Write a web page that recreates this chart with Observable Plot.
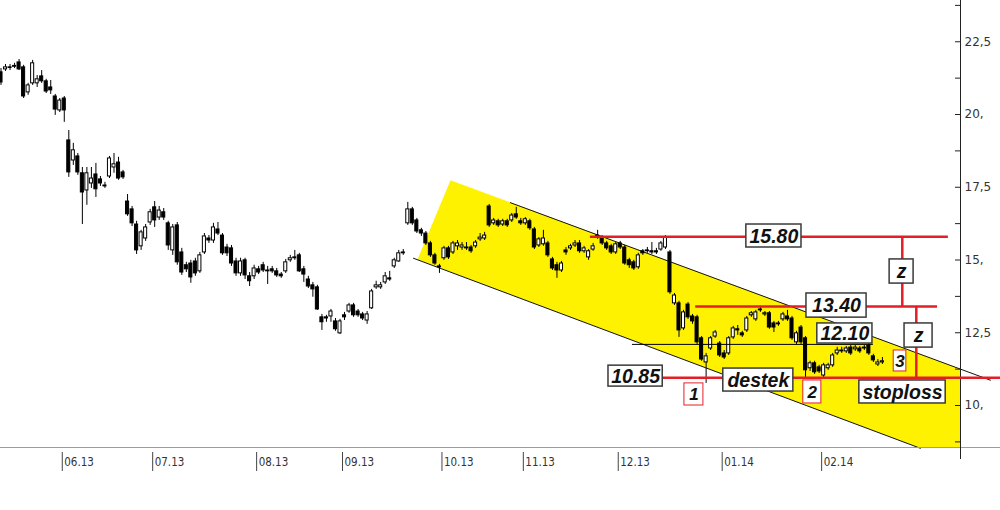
<!DOCTYPE html>
<html><head><meta charset="utf-8">
<script src="https://cdn.jsdelivr.net/npm/d3@7"></script>
<script src="https://cdn.jsdelivr.net/npm/@observablehq/plot@0.6"></script>
<style>html,body{margin:0;padding:0;background:#fff;overflow:hidden}</style>
</head><body><div id="chart"></div>
<script>
// ---- daily candles (bar index, price) ----
const openP=[21.45,21.55,21.62,21.64,21.79,21.62,20.76,21.07,21.07,21.31,21.14,20.93,20.62,20.14,20.55,19.11,18.42,18.56,17.98,17.39,17.63,17.94,17.77,17.56,17.87,18.18,18.35,18.01,17.01,16.74,16.22,15.47,15.74,16.29,16.81,16.46,16.64,16.26,15.33,16.19,15.26,14.82,14.88,14.95,14.61,15.26,15.74,15.67,16.05,15.84,15.43,15.40,14.95,14.54,14.99,14.44,14.44,14.68,14.82,14.64,14.68,14.61,14.50,14.61,14.99,15.09,15.16,14.68,14.33,14.13,14.06,13.03,13.03,13.06,12.89,12.48,13.10,13.23,13.44,13.23,13.13,12.92,13.34,14.06,14.06,14.23,14.37,14.78,14.95,15.26,16.26,16.74,16.36,16.02,15.91,15.57,15.16,14.78,15.06,15.40,15.26,15.47,15.43,15.43,15.43,15.47,15.71,15.74,16.84,16.26,16.33,16.22,16.33,16.36,16.57,16.33,16.26,16.33,16.05,15.50,15.54,15.57,15.02,14.82,14.64,15.33,15.40,15.50,15.57,15.30,15.09,15.36,15.84,15.77,15.57,15.47,15.26,15.57,15.43,14.99,14.92,14.75,15.30,15.33,15.30,15.30,15.36,15.43,15.26,13.51,13.51,12.65,13.47,13.06,13.03,12.31,11.48,11.96,12.37,12.13,11.79,11.79,12.34,12.62,12.48,12.58,13.10,12.96,13.30,13.13,13.17,12.82,12.82,12.96,13.06,12.99,12.17,12.68,12.31,11.28,11.45,11.31,11.03,11.28,11.38,11.79,11.89,11.86,11.99,11.93,11.96,11.96,12.06,11.69,11.41,11.48];
const highP=[21.58,21.72,21.72,21.76,21.89,21.69,21.07,21.86,21.34,21.51,21.21,21.17,20.69,20.55,20.62,19.45,19.01,18.66,18.18,18.18,18.18,18.32,17.87,17.67,18.56,18.66,18.53,18.08,17.25,16.84,16.33,16.02,16.22,16.74,17.01,16.84,16.77,16.33,16.22,16.29,15.40,14.92,14.99,15.06,15.26,15.91,15.84,16.26,16.29,15.91,15.54,15.50,15.06,15.06,15.06,14.57,14.82,14.78,14.92,14.78,14.78,14.71,14.57,15.02,15.16,15.33,15.23,14.78,14.44,14.23,14.13,13.13,13.10,13.30,12.99,12.96,13.20,13.51,13.51,13.30,13.20,13.23,13.99,14.27,14.23,14.57,14.61,15.06,15.33,15.36,16.98,16.81,16.43,16.09,15.98,15.64,15.23,14.85,15.47,15.47,15.64,15.67,15.60,15.60,15.50,15.67,15.91,15.95,16.91,16.43,16.40,16.40,16.40,16.60,16.81,16.43,16.46,16.40,16.12,15.77,16.02,15.64,15.09,14.92,14.95,15.43,15.54,15.67,15.67,15.47,15.36,15.57,16.02,15.84,15.64,15.54,15.60,15.64,15.50,15.06,14.99,15.23,15.36,15.43,15.60,15.40,15.64,15.84,15.33,13.85,13.58,13.27,13.54,13.13,13.10,12.37,11.79,12.37,12.58,12.20,11.89,12.37,12.72,12.75,12.55,13.06,13.23,13.27,13.41,13.23,13.23,12.89,12.89,13.20,13.27,13.06,12.55,12.75,12.37,11.52,11.52,11.38,11.45,11.45,11.79,12.00,12.00,12.03,12.06,12.06,12.03,12.06,12.13,11.76,11.58,11.65];
const lowP=[21.00,21.48,21.51,21.58,21.51,20.55,20.66,21.00,20.93,21.07,20.72,20.69,19.97,20.07,19.73,17.84,18.25,17.91,16.22,16.88,17.46,17.15,17.53,17.46,17.80,17.98,17.74,17.77,16.50,16.15,15.19,15.33,15.64,16.19,16.12,16.36,16.36,15.33,15.16,14.82,14.47,14.57,14.20,14.44,14.54,15.19,15.57,15.57,15.84,15.16,15.12,14.78,14.44,14.44,14.33,14.09,14.33,14.50,14.57,14.16,14.54,14.40,14.37,14.54,14.92,14.99,14.57,14.23,14.02,13.72,13.27,12.58,12.86,12.86,12.55,12.44,12.92,13.17,13.03,13.03,12.92,12.79,13.30,13.99,13.99,14.16,14.27,14.71,14.92,15.16,16.19,16.19,15.91,15.81,15.50,15.09,14.82,14.54,14.99,15.02,15.19,15.33,15.33,15.33,15.23,15.40,15.64,15.67,16.12,16.19,16.12,16.15,16.12,16.29,16.40,16.19,16.19,16.02,15.36,15.43,15.47,15.09,14.64,14.37,14.57,15.16,15.33,15.43,15.23,15.23,14.99,15.30,15.71,15.50,15.33,15.19,15.19,15.36,14.82,14.71,14.64,14.68,15.16,15.23,15.19,15.19,15.30,15.36,13.82,13.44,12.34,12.58,12.96,12.79,12.10,11.52,10.76,11.89,12.31,11.65,11.58,11.72,12.27,12.41,12.34,12.51,13.03,12.89,13.20,13.06,12.62,12.51,12.72,12.89,12.89,12.24,12.10,12.10,10.93,11.17,11.07,11.10,10.93,11.21,11.31,11.72,11.79,11.79,11.72,11.86,11.79,11.89,11.72,11.48,11.34,11.41];
const closeP=[21.10,21.62,21.60,21.67,21.55,20.62,21.00,21.76,21.21,21.14,20.79,20.83,20.17,20.48,20.14,18.01,18.77,18.01,17.32,17.98,17.80,17.43,17.63,17.53,18.49,18.29,17.80,17.84,16.57,16.26,15.33,15.95,16.12,16.64,16.36,16.70,16.46,15.50,16.12,14.92,14.57,14.68,14.40,14.54,15.16,15.81,15.67,16.12,15.91,15.23,15.23,14.88,14.54,14.95,14.47,14.27,14.71,14.57,14.64,14.61,14.61,14.47,14.44,14.92,15.06,15.06,14.61,14.50,14.09,13.99,13.30,12.86,12.99,13.23,12.62,12.89,13.03,13.44,13.10,13.10,12.99,13.13,13.92,14.13,14.13,14.44,14.33,14.99,15.23,15.23,16.74,16.26,15.98,15.91,15.57,15.16,14.88,14.75,15.40,15.09,15.57,15.57,15.50,15.40,15.30,15.60,15.77,15.84,16.19,16.36,16.19,16.33,16.19,16.53,16.46,16.26,16.40,16.09,15.43,15.71,15.74,15.16,14.71,14.64,14.88,15.26,15.47,15.57,15.30,15.40,15.30,15.47,15.77,15.57,15.40,15.26,15.54,15.43,14.88,14.82,14.71,15.16,15.23,15.30,15.26,15.26,15.57,15.77,13.89,13.78,12.58,13.20,13.03,12.89,12.17,11.58,11.69,12.31,12.51,11.72,11.65,12.31,12.65,12.58,12.41,12.99,13.17,13.20,13.27,13.17,12.68,12.68,12.79,13.13,12.96,12.31,12.48,12.17,11.21,11.45,11.14,11.17,11.38,11.38,11.72,11.89,11.86,11.96,11.79,11.99,11.86,11.99,11.79,11.55,11.48,11.52];

// ---- month ticks (first bar of month) ----
const monthBar=[14,34,57,76,98,116,137,160,182];
const monthLabel=["06.13","07.13","08.13","09.13","10.13","11.13","12.13","01.14","02.14"];

// ---- price axis ticks ----
const majorTicks=[10,12.5,15,17.5,20,22.5];
const minorTicks=[8.75,11.25,13.75,16.25,18.75,21.25,23.75];

// ---- drawn levels ----
const levelValue=[15.80,13.40];
const supportValue=10.95;      // red support / stop line as drawn
const midValue=12.10;          // thin black line

// ---- channel (bar index, price) ----
const channelX=[99.45,212.3,212.3,203.0,92.15];
const channelY=[17.74,11.25,8.557,8.557,15.02];
const upperX=[112.7,218.9], upperY=[16.97,10.87];
const lowerX=[91.26,203.4], lowerY=[15.06,8.53];

// ---- annotation boxes ----
const boxText=["15.80","13.40","12.10","10.85","destek","stoploss","z","z","1","2","3"];
const boxX1=[164.9,178.2,180.6,134.4,159.8,189.9,196.6,199.9,151.2,177.5,197.5];
const boxX2=[177.1,191.5,192.8,146.4,175.3,209.0,201.9,206.1,155.4,181.5,200.3];
const boxY1=[15.43,13.02,12.13,10.65,10.48,10.07,14.19,11.99,10.00,10.07,11.17];
const boxY2=[16.22,13.85,12.82,11.37,11.27,10.86,15.02,12.82,10.76,10.86,11.89];
const boxRed=[false,false,false,false,false,false,false,false,true,true,true];

// ---- geometry ----
const pxPerBar=4.52, pxPerUnit=29.1;
const xDomain=[-0.5/pxPerBar, 999.5/pxPerBar];
const yDomain=[8.557, 23.918];
const axisBar=959.5/pxPerBar;
const RED="#e41e26";

const candles=openP.map((o,i)=>({i,o,h:highP[i],l:lowP[i],c:closeP[i]}));
const channel=channelX.map((x,k)=>({x,y:channelY[k]}));
const chLines=[...upperX.map((x,k)=>({s:"u",x,y:upperY[k]})),...lowerX.map((x,k)=>({s:"l",x,y:lowerY[k]}))];
const boxes=boxText.map((t,k)=>({t,x1:boxX1[k],x2:boxX2[k],y1:boxY1[k],y2:boxY2[k],red:boxRed[k]}));
const fmt=d=>Number.isInteger(d)?d+",":String(d).replace(".",",");
const below=px=>yDomain[0]-px/pxPerUnit;

const chart=Plot.plot({
  width:1000,height:510,
  marginTop:0,marginBottom:63,marginLeft:0,marginRight:0,
  x:{type:"linear",domain:xDomain,axis:null},
  y:{type:"linear",domain:yDomain,axis:null},
  style:{background:"white",overflow:"visible"},
  marks:[
    Plot.line(channel,{x:"x",y:"y",fill:"#fff200",stroke:"none"}),
    Plot.line(chLines,{x:"x",y:"y",z:"s",stroke:"#111",strokeWidth:1}),
    Plot.ruleY([yDomain[0]],{stroke:"#66c266",strokeWidth:1}),
    Plot.ruleX([axisBar],{y1:below(12),y2:yDomain[1],stroke:"#222",strokeWidth:1}),
    Plot.ruleY(majorTicks.concat(minorTicks),{y:d=>d,x1:axisBar-5/pxPerBar,x2:axisBar,stroke:"#222"}),
    Plot.text(majorTicks,{x:axisBar,y:d=>d,text:fmt,dx:4,textAnchor:"start",fontSize:12,fontFamily:"DejaVu Sans",fill:"#333"}),
    Plot.ruleX(monthBar,{x:d=>d,y1:below(5),y2:below(24),dx:-2,stroke:"#444"}),
    Plot.text(monthBar,{x:d=>d,y:below(15),text:(d,k)=>monthLabel[k],dx:0,textAnchor:"start",fontSize:11.5,fontFamily:"DejaVu Sans Condensed, DejaVu Sans",fill:"#333"}),
    Plot.ruleX(candles,{x:"i",y1:"l",y2:"h",stroke:"#000",strokeWidth:1}),
    Plot.rect(candles,{x1:d=>d.i-0.34,x2:d=>d.i+0.34,y1:"o",y2:"c",fill:d=>d.c<d.o?"#000":"#fff",stroke:"#000",strokeWidth:1}),
    Plot.ruleY(levelValue,{y:d=>d,x1:(d,k)=>[130.4,153.7][k],x2:(d,k)=>[209.6,207.2][k],stroke:RED,strokeWidth:2.5}),
    Plot.ruleY([supportValue],{y:d=>d,x1:146.3,x2:xDomain[1],stroke:RED,strokeWidth:2.5}),
    Plot.ruleY([midValue],{y:d=>d,x1:139.7,x2:193.0,stroke:"#000",strokeWidth:1}),
    Plot.ruleX([199.4],{y1:levelValue[1],y2:levelValue[0],stroke:RED,strokeWidth:2.5}),
    Plot.ruleX([202.5],{y1:supportValue,y2:levelValue[1],stroke:RED,strokeWidth:2.5}),
    Plot.rect(boxes,{x1:"x1",x2:"x2",y1:"y1",y2:"y2",fill:"#fff",stroke:d=>d.red?RED:"#3a3a3a",strokeWidth:d=>d.red?1:1.5}),
    Plot.text(boxes,{x:d=>(d.x1+d.x2)/2,y:d=>(d.y1+d.y2)/2,text:"t",dy:0.5,fontSize:d=>d.red?17:19.5,fontWeight:"bold",fontStyle:"italic",fontFamily:"Liberation Sans, Arial, sans-serif",fill:"#111"})
  ]
});
document.getElementById("chart").append(chart);
</script>
</body></html>
